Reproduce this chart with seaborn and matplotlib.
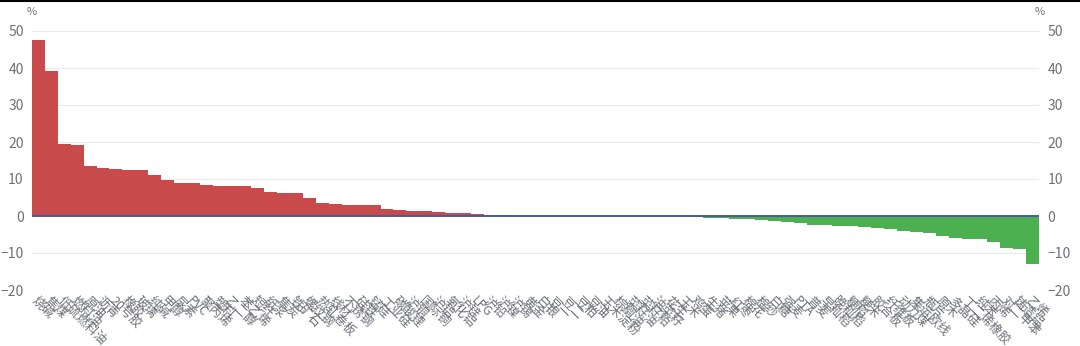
import matplotlib
matplotlib.use("Agg")
import matplotlib.pyplot as plt
import seaborn as sns
import pandas as pd
from matplotlib.lines import Line2D

sns.set_theme(style="white")
plt.rcParams['font.family'] = ['Noto Sans CJK SC', 'DejaVu Sans']

categories = [
    "烧碱", "焦煤", "低硫燃料油", "燃料油", "原油", "沥青", "20号胶", "橡胶", "玻璃", "纯碱",
    "甲醇", "尿素", "PVC", "聚丙烯", "塑料", "乙二醇", "苯乙烯", "短纤", "纸浆", "焦炭",
    "铁矿石", "螺纹钢", "热轧卷板", "线材", "不锈钢", "硅铁", "锰硅", "工业硅", "碳酸锂", "沪铜",
    "国际铜", "沪铝", "氧化铝", "沪锌", "LPG", "沪铅", "沪镍", "沪锡", "黄金", "白银",
    "豆一", "豆二", "豆粕", "豆油", "玉米淀粉", "棕榈油", "菜籽油", "菜籽粕", "油菜籽", "花生",
    "玉米", "鸡蛋", "生猪", "苹果", "红枣", "棉花", "棉纱", "白糖", "强麦", "PTA",
    "普麦", "早籼稻", "晚籼稻", "粳稻", "粳米", "胶合板", "纤维板", "动力煤", "集运欧线", "瓶片",
    "原木", "多晶硅", "丁二烯橡胶", "纯苯", "丙烯", "对二甲苯", "铸造铝", "乙烯",
]

values = [
    47.6, 39.1, 19.5, 19.1, 13.5, 13.0, 12.6, 12.5, 12.4, 11.0,
    9.8, 9.0, 8.9, 8.4, 8.2, 8.1, 8.0, 7.5, 6.4, 6.3,
    6.1, 4.8, 3.6, 3.3, 3.1, 3.0, 2.9, 1.8, 1.7, 1.4,
    1.3, 1.1, 0.9, 0.8, 0.5, 0.4, 0.2, 0.05, 0.04, 0.03,
    0.02, 0.02, 0.01, 0.01, 0.0, 0.0, -0.01, -0.02, -0.03, -0.05,
    -0.1, -0.4, -0.5, -0.6, -0.8, -0.9, -1.1, -1.3, -1.5, -1.8,
    -2.3, -2.5, -2.6, -2.8, -2.9, -3.2, -3.5, -4.0, -4.3, -4.7,
    -5.5, -6.0, -6.1, -6.3, -6.9, -8.6, -9.0, -13.1,
]

y_ticks = [-20, -10, 0, 10, 20, 30, 40, 50]

df = pd.DataFrame({"name": categories, "value": values})
df["sign"] = ["pos" if v >= 0 else "neg" for v in values]

fig = plt.figure(figsize=(10.8, 3.46), dpi=100)
ax = fig.add_axes([32/1080, 1 - 290/346, (1039-32)/1080, (290-31)/346])

sns.barplot(data=df, x="name", y="value", hue="sign", order=categories,
            palette={"pos": "#c84a4a", "neg": "#4caf50"}, width=1.0,
            dodge=False, legend=False, ax=ax, linewidth=0, saturation=1)

ax.set_ylim(-20, 50)
ax.set_xlim(-0.5, len(categories) - 0.5)
ax.set_yticks(y_ticks)
ax.set_axisbelow(True)
for t in y_ticks:
    if t != 0:
        ax.axhline(t, color="#e6e9f0", lw=0.8, zorder=0)
ax.axhline(0, color="#4a5a9a", lw=1.4, zorder=3)

for s in ax.spines.values():
    s.set_visible(False)
ax.set_xlabel("")
ax.set_ylabel("")
ax.tick_params(axis="y", length=0, labelsize=10, labelcolor="#6e7079", pad=6)
ax.tick_params(axis="x", length=0, labelsize=9, labelcolor="#6e7079", pad=3)
ax.set_xticks(range(len(categories)))
ax.set_xticklabels(categories, rotation=-45, ha="left", va="top", rotation_mode="anchor")

ax2 = ax.twinx()
ax2.set_ylim(-20, 50)
ax2.set_yticks(y_ticks)
for s in ax2.spines.values():
    s.set_visible(False)
ax2.tick_params(axis="y", length=0, labelsize=10, labelcolor="#6e7079", pad=6)
ax2.grid(False)

fig.text(32/1080, 1 - 12/346, "%", fontsize=8, color="#6e7079", ha="center", va="center")
fig.text(1040/1080, 1 - 12/346, "%", fontsize=8, color="#6e7079", ha="center", va="center")
fig.add_artist(Line2D([0, 1], [1 - 0.5/346, 1 - 0.5/346], color="black", lw=1.5,
                      transform=fig.transFigure))

fig.savefig("out.png", dpi=100)
